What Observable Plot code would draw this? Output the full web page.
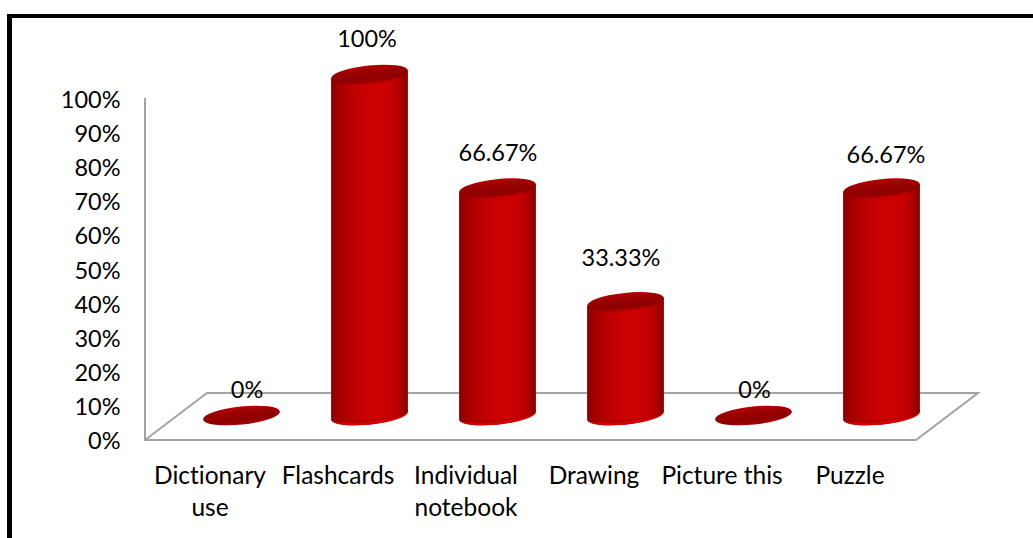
<!DOCTYPE html>
<html>
<head>
<meta charset="utf-8">
<script src="https://cdn.jsdelivr.net/npm/d3@7"></script>
<script src="https://cdn.jsdelivr.net/npm/@observablehq/plot@0.6"></script>
<style>
  html, body { margin: 0; padding: 0; background: #fff; overflow: hidden; }
  #chart { position: absolute; left: 0; top: 0; }
  #frame { position: absolute; left: 7px; top: 14px; right: 0; bottom: 0;
           border-left: 5px solid #000; border-top: 4px solid #000; pointer-events: none; }
</style>
</head>
<body>
<div id="chart"></div>
<div id="frame"></div>
<script>
// Share of learners per vocabulary strategy
const categories = ["Dictionary use", "Flashcards", "Individual notebook", "Drawing", "Picture this", "Puzzle"];
const tickLines = ["Dictionary\nuse", "Flashcards", "Individual\nnotebook", "Drawing", "Picture this", "Puzzle"];
const shares = [0, 1, 0.6667, 0.3333, 0, 0.6667];
const shareLabels = ["0%", "100%", "66.67%", "33.33%", "0%", "66.67%"];

const rows = categories.map((category, i) => ({category, share: shares[i], label: shareLabels[i]}));

// Hand placement of the value labels relative to the top of each column
const labelNudge = [[4, -26], [-4, -35.5], [-1, -35], [-6, -44], [-0.5, -26], [3, -33]];

// Floor depth: columns stand half way back on the floor
const depthX = 61, depthY = 47;
const columnShift = -1;
const tilt = -6, radiusY = 9;
const tiltRad = tilt * Math.PI / 180;
const FONT = "Lato, 'Open Sans', sans-serif";

// Wall edge and parallelogram floor of the pseudo-3D chart box
function floorMark(index, scales, values, dimensions) {
  const x0 = dimensions.marginLeft - 1;
  const x1 = dimensions.width - dimensions.marginRight - 1;
  const y0 = scales.y(0);
  const g = d3.create("svg:g").attr("fill", "none").attr("stroke", "#a3a3a3").attr("stroke-width", 2);
  g.append("path").attr("d",
    `M${x0},${scales.y(1)}V${y0 + 1}H${x1}L${x1 + depthX + 1},${y0 - depthY + 1}H${x0 + depthX + 1}L${x0},${y0 + 1}`);
  return g.node();
}

// Tilted cylinders: body, bottom rim and top cap from the x and y scales
function cylinderMark(index, scales, values, dimensions, context) {
  const bw = scales.x.bandwidth();
  const radius = bw * 0.3;
  const major = radius / Math.cos(tiltRad);
  const rise = major * Math.sin(tiltRad);
  const g = d3.create("svg:g");

  const defs = g.append("defs");
  const body = defs.append("linearGradient").attr("id", "cyl-body");
  [[0, "#860000"], [0.08, "#a00000"], [0.3, "#bd0000"], [0.55, "#d00000"], [0.78, "#c60000"], [0.92, "#aa0000"], [1, "#800000"]]
    .forEach(([o, c]) => body.append("stop").attr("offset", o).attr("stop-color", c));
  const cap = defs.append("linearGradient").attr("id", "cyl-cap").attr("x1", 0).attr("x2", 0).attr("y1", 0).attr("y2", 1);
  [[0, "#b80000"], [0.3, "#9c0000"], [0.75, "#8c0000"], [1, "#a80000"]]
    .forEach(([o, c]) => cap.append("stop").attr("offset", o).attr("stop-color", c));

  for (const i of index) {
    const d = rows[i];
    const cx = scales.x(d.category) + bw / 2 + depthX / 2 + columnShift;
    const yBase = scales.y(0) - depthY / 2;
    const yTop = scales.y(d.share) - depthY / 2;
    if (d.share > 0) {
      const bottomArc = `A${major},${radiusY} ${tilt} 0 0 ${cx + radius},${yBase + rise}`;
      g.append("path")
        .attr("fill", "url(#cyl-body)")
        .attr("d", `M${cx - radius},${yTop - rise}L${cx - radius},${yBase - rise}${bottomArc}` +
          `L${cx + radius},${yTop + rise}Z`);
      // Reflected rim along the lower edge, with a thin shadow above it
      g.append("path")
        .attr("fill", "#d20000")
        .attr("d", `M${cx - radius},${yBase - rise}${bottomArc}` +
          `A${major},${radiusY - 4} ${tilt} 0 1 ${cx - radius},${yBase - rise}Z`);
      g.append("path")
        .attr("fill", "none").attr("stroke", "#8e0000").attr("stroke-width", 1).attr("stroke-opacity", 0.6)
        .attr("d", `M${cx - radius},${yBase - rise}A${major},${radiusY - 4} ${tilt} 0 0 ${cx + radius},${yBase + rise}`);
    }
    g.append("ellipse")
      .attr("cx", cx).attr("cy", yTop).attr("rx", major).attr("ry", radiusY)
      .attr("transform", `rotate(${tilt} ${cx} ${yTop})`)
      .attr("fill", "url(#cyl-cap)");
  }
  return g.node();
}

const plot = Plot.plot({
  width: 1033,
  height: 538,
  marginLeft: 146,
  marginRight: 116,
  marginTop: 98,
  marginBottom: 99,
  style: {fontFamily: FONT, fontSize: "24px", color: "#000", background: "transparent", fontVariantLigatures: "none"},
  x: {domain: categories, padding: 0},
  y: {domain: [0, 1]},
  marks: [
    Plot.barY(rows, {x: "category", y: "share", render: floorMark}),
    Plot.barY(rows, {x: "category", y: "share", render: cylinderMark}),
    Plot.axisY({
      ticks: d3.range(0, 1.01, 0.1),
      tickFormat: d3.format(".0%"),
      tickSize: 0,
      tickPadding: 26,
      label: null,
      fontSize: 23.5,
      dy: 2
    }),
    Plot.axisX({
      tickSize: 0,
      tickPadding: 21,
      label: null,
      fontSize: 24.5,
      lineHeight: 1.33,
      dx: -2.5,
      tickFormat: (d) => tickLines[categories.indexOf(d)]
    }),
    ...rows.map((d, i) => Plot.text([d], {
      x: "category",
      y: "share",
      text: "label",
      fontSize: 23.5,
      dx: depthX / 2 + labelNudge[i][0],
      dy: -depthY / 2 + labelNudge[i][1],
      fill: "#000"
    }))
  ]
});
document.getElementById("chart").appendChild(plot);
</script>
</body>
</html>
